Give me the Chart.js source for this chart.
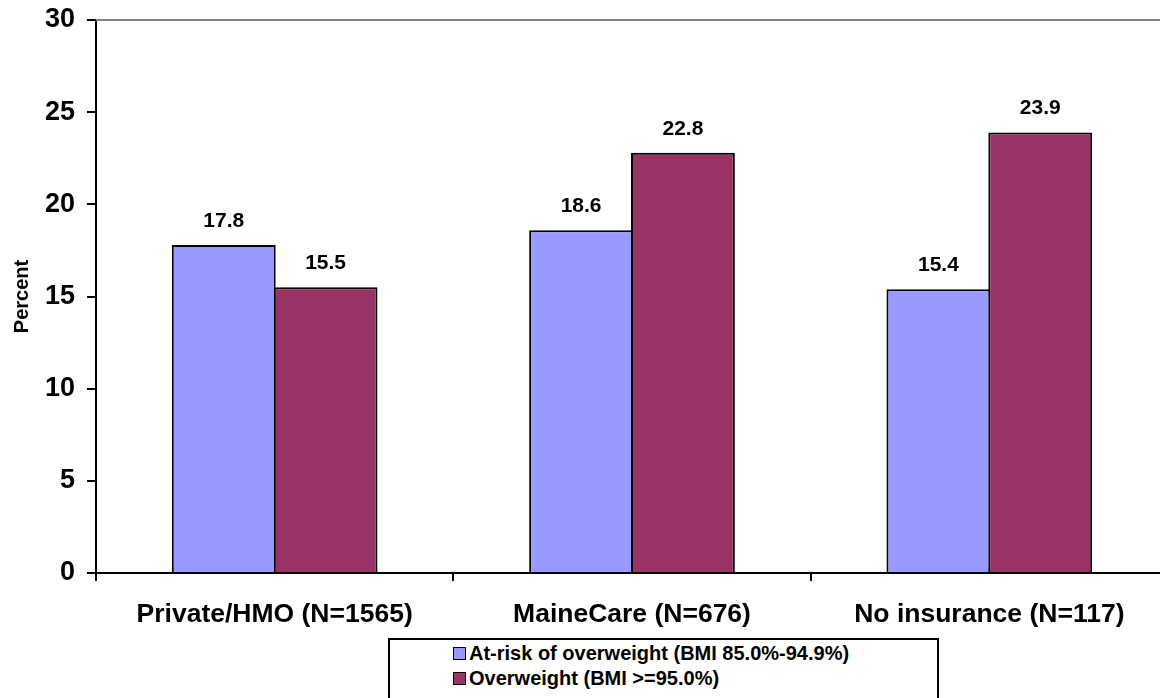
<!DOCTYPE html>
<html>
<head>
<meta charset="utf-8">
<script src="https://cdn.jsdelivr.net/npm/chart.js@4.4.1/dist/chart.umd.min.js"></script>
<style>
  html, body { margin: 0; padding: 0; background: #fff; overflow: hidden; width: 1160px; height: 698px; }
  #wrap { position: absolute; left: 0; top: 0; width: 1168px; height: 698px; }
  #legend {
    position: absolute; left: 388px; top: 638px; width: 551px; height: 80px;
    border: 2px solid #000; background: #fff; box-sizing: border-box;
    font-family: Arial, "Liberation Sans", sans-serif; font-weight: bold; font-size: 20px; color: #000;
    padding-top: 1px;
  }
  .item { display: flex; align-items: center; height: 25px; padding-left: 63px; white-space: nowrap; }
  .sw { width: 11px; height: 11px; border: 1.5px solid #000; margin-right: 3px; flex: none; }
</style>
</head>
<body>
<div id="wrap"><canvas id="c"></canvas></div>
<div id="legend"></div>
<script>
const categories = ["Private/HMO (N=1565)", "MaineCare (N=676)", "No insurance (N=117)"];
const atRiskValues = [17.8, 18.6, 15.4];
const overweightValues = [15.5, 22.8, 23.9];
const seriesLabels = ["At-risk of overweight (BMI 85.0%-94.9%)", "Overweight (BMI >=95.0%)"];
const seriesColors = ["#9999FF", "#993366"];
const yTicks = [0, 5, 10, 15, 20, 25, 30];

const FONT = 'Arial, "Liberation Sans", sans-serif';

const valueLabels = {
  id: 'valueLabels',
  afterDatasetsDraw(chart) {
    const ctx = chart.ctx;
    ctx.save();
    ctx.font = 'bold 21px ' + FONT;
    ctx.fillStyle = '#000';
    ctx.textAlign = 'center';
    ctx.textBaseline = 'alphabetic';
    chart.data.datasets.forEach((ds, i) => {
      chart.getDatasetMeta(i).data.forEach((bar, j) => {
        ctx.fillText(ds.data[j].toFixed(1), bar.x, bar.y - 18);
      });
    });
    ctx.restore();
  }
};

const topLine = {
  id: 'topLine',
  beforeDatasetsDraw(chart) {
    const { ctx, chartArea } = chart;
    ctx.save();
    ctx.strokeStyle = '#808080';
    ctx.lineWidth = 2;
    ctx.beginPath();
    ctx.moveTo(chartArea.left, chartArea.top);
    ctx.lineTo(chartArea.right, chartArea.top);
    ctx.stroke();
    ctx.restore();
  }
};

new Chart(document.getElementById('c'), {
  type: 'bar',
  data: {
    labels: categories,
    datasets: [
      { label: seriesLabels[0], data: atRiskValues, backgroundColor: seriesColors[0], borderColor: '#000', borderWidth: 2 },
      { label: seriesLabels[1], data: overweightValues, backgroundColor: seriesColors[1], borderColor: '#000', borderWidth: 2 }
    ]
  },
  options: {
    responsive: true,
    maintainAspectRatio: false,
    animation: false,
    layout: { padding: { top: 20, left: 0, right: 0, bottom: 0 } },
    datasets: { bar: { categoryPercentage: 0.57, barPercentage: 1.02 } },
    plugins: { legend: { display: false }, tooltip: { enabled: false } },
    scales: {
      x: {
        afterFit(s) { s.height = 125; s.paddingLeft = 0; s.paddingRight = 0; },
        grid: { offset: true, drawOnChartArea: false, drawTicks: true, tickLength: 8, color: '#000', lineWidth: 2 },
        border: { color: '#000', width: 2 },
        ticks: { color: '#000', font: { family: FONT, weight: 'bold', size: 26.5 }, padding: 18, maxRotation: 0 }
      },
      y: {
        min: 0, max: 30,
        afterFit(s) { s.width = 96; s.paddingTop = 0; s.paddingBottom = 0; },
        afterBuildTicks(s) { s.ticks = yTicks.map(v => ({ value: v })); },
        grid: { drawOnChartArea: false, drawTicks: true, tickLength: 9, color: '#000', lineWidth: 2 },
        border: { color: '#000', width: 2 },
        ticks: { color: '#000', font: { family: FONT, weight: 'bold', size: 27 }, padding: 12 },
        title: { display: true, text: 'Percent', color: '#000', font: { family: FONT, weight: 'bold', size: 20 }, padding: { top: 10, bottom: 0 } }
      }
    }
  },
  plugins: [topLine, valueLabels]
});

const legendEl = document.getElementById('legend');
seriesLabels.forEach((lab, i) => {
  const row = document.createElement('div');
  row.className = 'item';
  const sw = document.createElement('span');
  sw.className = 'sw';
  sw.style.background = seriesColors[i];
  const tx = document.createElement('span');
  tx.textContent = lab;
  row.appendChild(sw);
  row.appendChild(tx);
  legendEl.appendChild(row);
});
</script>
</body>
</html>
